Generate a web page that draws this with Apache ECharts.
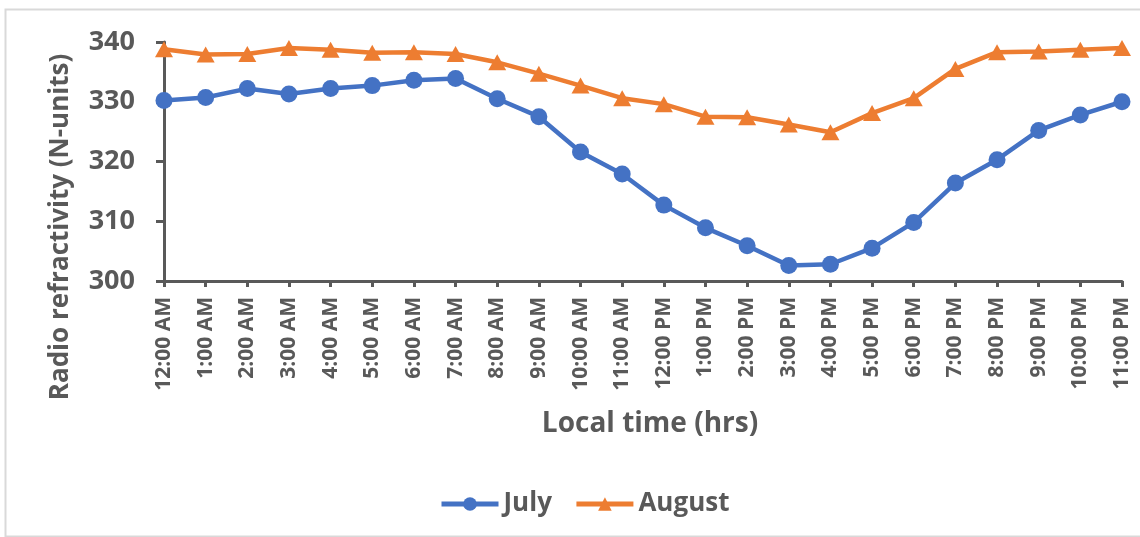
<!DOCTYPE html>
<html>
<head>
<meta charset="utf-8">
<script src="https://cdn.jsdelivr.net/npm/echarts@6/dist/echarts.min.js"></script>
<style>
  html, body { margin: 0; padding: 0; background: #ffffff; }
  #chart { width: 1140px; height: 537px; }
</style>
</head>
<body>
<div id="chart"></div>
<script>
// Hourly local time of day
const hours = [
  '12:00 AM', '1:00 AM', '2:00 AM', '3:00 AM', '4:00 AM', '5:00 AM',
  '6:00 AM', '7:00 AM', '8:00 AM', '9:00 AM', '10:00 AM', '11:00 AM',
  '12:00 PM', '1:00 PM', '2:00 PM', '3:00 PM', '4:00 PM', '5:00 PM',
  '6:00 PM', '7:00 PM', '8:00 PM', '9:00 PM', '10:00 PM', '11:00 PM'
];

// Mean radio refractivity (N-units) per hour
const july = [
  330.2, 330.7, 332.2, 331.3, 332.2, 332.7, 333.6, 333.9, 330.5, 327.5, 321.6, 317.9,
  312.7, 308.9, 305.9, 302.6, 302.8, 305.5, 309.8, 316.4, 320.3, 325.2, 327.8, 330.0
];
const august = [
  338.8, 337.9, 338.0, 339.0, 338.7, 338.2, 338.3, 338.0, 336.6, 334.7, 332.7, 330.6,
  329.6, 327.5, 327.4, 326.2, 324.9, 328.1, 330.6, 335.5, 338.3, 338.4, 338.7, 339.0
];

const FONT = '"Open Sans"';
const INK = '#595959';

const chart = echarts.init(document.getElementById('chart'));
chart.setOption({
  animation: false,
  backgroundColor: '#ffffff',
  grid: { left: 164, right: 18, top: 42, bottom: 256, containLabel: false },
  legend: {
    left: 434,
    top: 486,
    itemWidth: 57,
    itemHeight: 17,
    itemGap: 22,
    lineStyle: { width: 5 },
    textStyle: { fontFamily: FONT, fontWeight: 'bold', fontSize: 26, color: INK },
    data: ['July', 'August']
  },
  xAxis: {
    type: 'category',
    data: hours,
    boundaryGap: false,
    axisLine: { lineStyle: { color: INK, width: 3 } },
    axisTick: { show: true, length: 6, alignWithLabel: true, lineStyle: { color: INK, width: 3 } },
    axisLabel: {
      interval: 0,
      rotate: 90,
      margin: 16,
      fontFamily: FONT,
      fontWeight: 'bold',
      fontSize: 21,
      color: INK
    },
    splitLine: { show: false }
  },
  yAxis: {
    type: 'value',
    min: 300,
    max: 340,
    interval: 10,
    axisLine: { show: true, lineStyle: { color: INK, width: 3 } },
    axisTick: { show: true, length: 8, lineStyle: { color: INK, width: 3 } },
    axisLabel: {
      margin: 29,
      fontFamily: FONT,
      fontWeight: 'bold',
      fontSize: 27,
      color: INK
    },
    splitLine: { show: false }
  },
  series: [
    {
      name: 'July',
      type: 'line',
      data: july,
      symbol: 'circle',
      symbolSize: 17,
      showSymbol: true,
      color: '#4472C4',
      lineStyle: { width: 4.5, color: '#4472C4' },
      itemStyle: { color: '#4472C4' },
      z: 2
    },
    {
      name: 'August',
      type: 'line',
      data: august,
      symbol: 'triangle',
      symbolSize: [18, 16],
      showSymbol: true,
      color: '#ED7D31',
      lineStyle: { width: 4.5, color: '#ED7D31' },
      itemStyle: { color: '#ED7D31' },
      z: 3
    }
  ],
  graphic: [
    {
      type: 'rect',
      silent: true,
      shape: { x: 5.5, y: 9.5, width: 1140, height: 527 },
      style: { fill: 'none', stroke: '#d9d9d9', lineWidth: 2 }
    },
    {
      type: 'text',
      silent: true,
      x: 61,
      y: 227,
      rotation: Math.PI / 2,
      style: {
        text: 'Radio refractivity (N-units)',
        fontFamily: FONT,
        fontWeight: 'bold',
        fontSize: 26,
        fill: INK,
        align: 'center',
        verticalAlign: 'middle'
      }
    },
    {
      type: 'text',
      silent: true,
      x: 650,
      y: 424,
      style: {
        text: 'Local time (hrs)',
        fontFamily: FONT,
        fontWeight: 'bold',
        fontSize: 28,
        fill: INK,
        align: 'center',
        verticalAlign: 'middle'
      }
    }
  ]
});
</script>
</body>
</html>
